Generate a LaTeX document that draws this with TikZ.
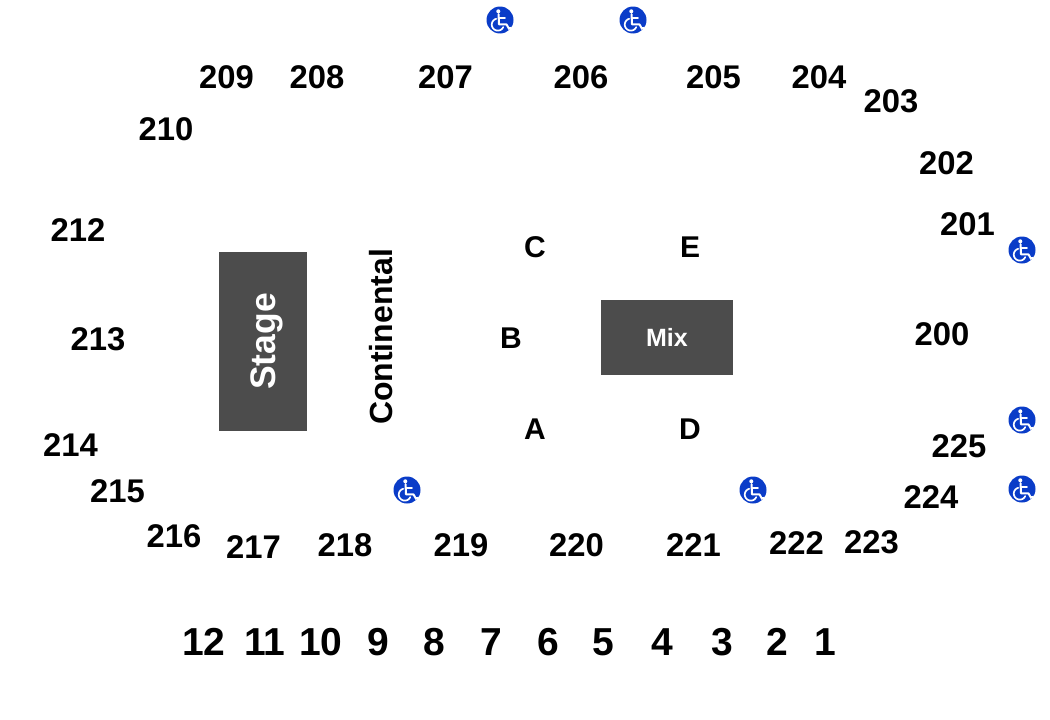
\documentclass[tikz,border=0pt]{standalone}
\usepackage{fontspec}
\setmainfont{Liberation Sans}
\tikzset{
 x=1pt,y=-1pt,
 sec/.style={font=\fontsize{32.8}{33}\bfseries\selectfont,text=black,inner sep=0pt,anchor=center,text height=23.5pt,text depth=0pt},
 lab/.style={font=\fontsize{30}{30}\bfseries\selectfont,text=black,inner sep=0pt,anchor=center,text height=21.5pt,text depth=0pt},
 big/.style={font=\fontsize{39}{39}\bfseries\selectfont,text=black,inner sep=0pt,anchor=center,text height=28pt,text depth=0pt},
 block/.style={fill=black!70,draw=none,inner sep=0pt},
 adabg/.style={circle,fill=adablue,draw=none,minimum size=27pt,inner sep=0pt},
}
\definecolor{adablue}{RGB}{10,60,200}
\newcommand{\adaicon}[3]{%
 \node[adabg] (#1) at (#2,#3) {};
 \begin{scope}[shift={(#2,#3)},line cap=round,line join=round]
  \fill[white] (-1.7,-8.7) circle (2);
  \draw[white,line width=2pt] (-1.5,-5.8) -- (-1,4.4) -- (6.5,4.4) -- (9,8.8) -- (10.6,7.8);
  \draw[white,line width=1.7pt] (-1.3,-1.8) -- (5,-1.8);
  \draw[white,line width=1.7pt] plot[domain=105:335,samples=30,smooth] ({-2.2+6*cos(\x)},{4.6-6*sin(\x)});
 \end{scope}}
\begin{document}
\begin{tikzpicture}
\useasboundingbox (0,0) rectangle (1050,720);
\fill[white] (0,0) rectangle (1050,720);
\node[block,minimum width=88pt,minimum height=179pt] (stage) at (263.3,341.6) {};
\node[font=\fontsize{35.5}{35}\bfseries\selectfont,text=white,rotate=90,inner sep=0pt] (stagel) at (267,341.5) {Stage};
\node[block,minimum width=132pt,minimum height=75pt] (mix) at (667,337) {};
\node[font=\fontsize{25}{25}\bfseries\selectfont,text=white,inner sep=0pt] (mixl) at (667,337) {Mix};
\node[font=\fontsize{32}{32}\bfseries\selectfont,rotate=90,inner sep=0pt] (cont) at (381,337) {Continental};
\foreach \n/\x/\y in {209/226.5/77,208/317/77,207/445.5/77,206/581/77,205/713.5/77,204/819/77,203/891/101,202/946.5/162.5,201/967.5/224,210/166/129,212/78/230,213/98/339,214/70.5/445,215/117.5/491,216/174/536,217/253.5/547,218/345/545,219/461/545,220/576.5/545,221/693.5/545,222/796.5/543,223/871.5/542,224/931/497,225/959/445.5,200/942/334}
  \node[sec] (s\n) at (\x,\y) {\n};
\foreach \n/\x/\y in {C/535/247,E/690/247,B/511/338,A/535/429,D/690/429}
  \node[lab] (l\n) at (\x,\y) {\n};
\foreach \n/\x in {12/204,11/265,10/321,9/378.5,8/434.5,7/491.5,6/548.5,5/603.5,4/662,3/722.5,2/777.5,1/825}
  \node[big] (r\n) at (\x,641.5) {\n};
\adaicon{w1}{500}{20}
\adaicon{w2}{633}{20}
\adaicon{w3}{1022}{250}
\adaicon{w4}{1022}{420}
\adaicon{w5}{1022}{489}
\adaicon{w6}{407}{490}
\adaicon{w7}{753}{490}
\end{tikzpicture}
\end{document}
